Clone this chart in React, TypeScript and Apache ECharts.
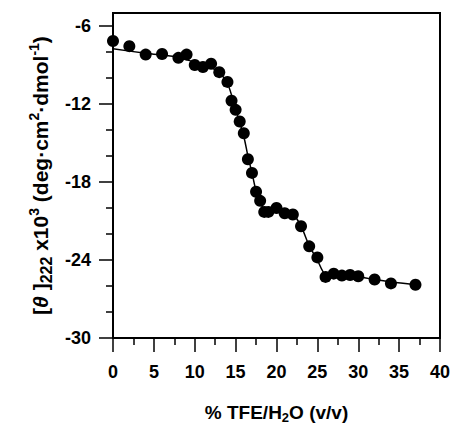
import React, { useEffect, useRef } from "react";
import * as echarts from "echarts";

// % TFE (v/v)
const tfe = [0, 2, 4, 6, 8, 9, 10, 11, 12, 13, 14, 14.5, 15, 15.5, 16, 16.5, 17, 17.5, 18, 18.5, 19, 20, 21, 22, 23, 24, 25, 26, 27, 28, 29, 30, 32, 34, 37];
// [theta]222 x10^3
const theta = [-7.15, -7.55, -8.2, -8.15, -8.45, -8.2, -9.0, -9.15, -8.9, -9.55, -10.3, -11.75, -12.45, -13.35, -14.25, -16.25, -17.3, -18.75, -19.45, -20.3, -20.3, -20.0, -20.4, -20.5, -21.4, -22.95, -23.8, -25.3, -25.05, -25.2, -25.15, -25.25, -25.5, -25.8, -25.9];

// fitted curve
const fitX = [0, 4, 8, 10, 12, 13, 14, 15, 16, 16.5, 17, 17.5, 18, 18.5, 19, 20, 22, 23, 24, 25, 26, 28, 30, 32, 34, 37];
const fitY = [-7.75, -8.1, -8.4, -8.8, -9.2, -9.6, -10.4, -12.4, -14.5, -16.0, -17.3, -18.7, -19.6, -20.1, -20.2, -20.2, -20.5, -21.4, -22.9, -24.0, -25.1, -25.25, -25.3, -25.5, -25.7, -25.9];

const yMajorTicks = [-30, -24, -18, -12, -6];
const yMinorTicks = [-28, -26, -22, -20, -16, -14, -10, -8];

const FONT = '"Liberation Sans", Arial, Helvetica, sans-serif';

export default function App() {
  const ref = useRef<HTMLDivElement>(null);
  useEffect(() => {
    if (!ref.current) return;
    const chart = echarts.init(ref.current, null, { renderer: "svg" });
    const labelStyle = { fontFamily: FONT, fontWeight: "bold" as const, color: "#000" };
    chart.setOption({
      animation: false,
      backgroundColor: "#fff",
      grid: {
        left: 113,
        right: 13,
        top: 13,
        bottom: 86,
        show: true,
        borderColor: "#000",
        borderWidth: 2,
        outerBoundsMode: "none",
      },
      xAxis: {
        type: "value",
        min: 0,
        max: 40,
        interval: 5,
        name: "% TFE/H{sub|2}O (v/v)",
        nameLocation: "middle",
        nameGap: 62,
        nameTextStyle: {
          ...labelStyle,
          fontSize: 19,
          lineHeight: 24,
          rich: {
            sub: { ...labelStyle, fontSize: 13, lineHeight: 14, verticalAlign: "bottom" },
          },
        },
        axisLine: { show: true, lineStyle: { color: "#000", width: 2 } },
        axisTick: { show: true, length: 14, lineStyle: { color: "#000", width: 1.5 } },
        minorTick: { show: true, splitNumber: 2, length: 7, lineStyle: { color: "#000", width: 1.5 } },
        splitLine: { show: false },
        axisLabel: { ...labelStyle, fontSize: 18, margin: 25 },
      },
      yAxis: [
        {
          type: "value",
          min: -30,
          max: -5,
          interval: 6,
          position: "left",
          name: "[{it|θ} ]{sub|222} x10{sup|3} (deg·cm{sup|2}·dmol{sup|-1})",
          nameLocation: "middle",
          nameRotate: 90,
          nameGap: 59,
          nameTextStyle: {
            ...labelStyle,
            fontSize: 21,
            lineHeight: 27,
            rich: {
              it: { ...labelStyle, fontSize: 21, fontStyle: "italic", lineHeight: 27 },
              sub: { ...labelStyle, fontSize: 16, lineHeight: 16, verticalAlign: "bottom" },
              sup: { ...labelStyle, fontSize: 14, lineHeight: 14, verticalAlign: "top" },
            },
          },
          axisLine: { show: true, lineStyle: { color: "#000", width: 2 } },
          axisTick: { show: true, length: 14, customValues: yMajorTicks, lineStyle: { color: "#000", width: 1.5 } },
          splitLine: { show: false },
          axisLabel: { ...labelStyle, fontSize: 18, margin: 22, customValues: yMajorTicks },
        },
        {
          type: "value",
          min: -30,
          max: -5,
          interval: 2,
          position: "left",
          offset: 0,
          axisLine: { show: false },
          axisTick: { show: true, length: 7, customValues: yMinorTicks, lineStyle: { color: "#000", width: 1.5 } },
          axisLabel: { show: false },
          splitLine: { show: false },
        },
      ],
      series: [
        {
          type: "line",
          data: fitX.map((x, i) => [x, fitY[i]]),
          showSymbol: false,
          symbol: "none",
          smooth: 0.3,
          lineStyle: { color: "#000", width: 1.5 },
          yAxisIndex: 0,
          z: 2,
        },
        {
          type: "scatter",
          data: tfe.map((x, i) => [x, theta[i]]),
          symbol: "circle",
          symbolSize: 12,
          itemStyle: { color: "#000", opacity: 1 },
          yAxisIndex: 0,
          z: 3,
        },
      ],
    });
    return () => chart.dispose();
  }, []);
  return (
    <div
      ref={ref}
      style={{ position: "fixed", left: 0, top: 0, width: 453, height: 424, background: "#fff" }}
    />
  );
}
